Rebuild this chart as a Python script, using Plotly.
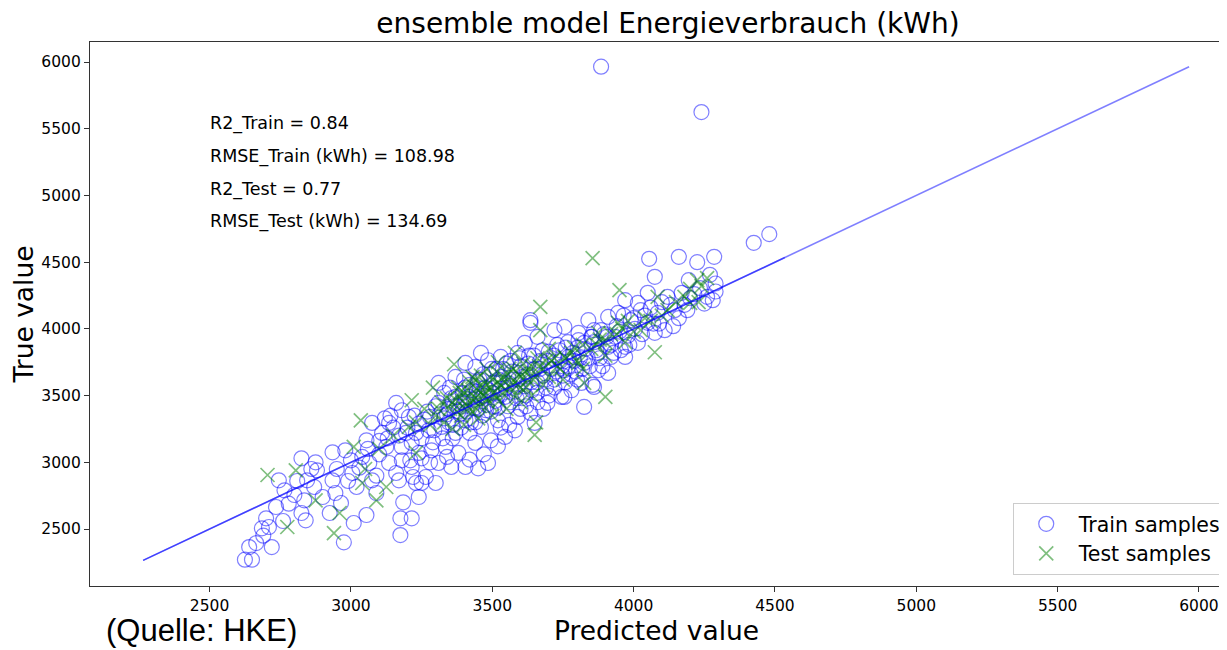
import plotly.graph_objects as go

title_text = "ensemble model Energieverbrauch (kWh)"
x_label = "Predicted value"
y_label = "True value"
source_text = "(Quelle: HKE)"
metrics = ["R2_Train = 0.84", "RMSE_Train (kWh) = 108.98", "R2_Test = 0.77", "RMSE_Test (kWh) = 134.69"]
tick_vals = [2500, 3000, 3500, 4000, 4500, 5000, 5500, 6000]

# (predicted, true) pairs
train_samples = [
    (2625,2270),(2650,2270),(2640,2365),(2665,2395),(2685,2505),(2710,2515),(2720,2365),(2700,2580),(2735,2665),
    (2745,2865),(2765,2790),(2800,2755),(2825,3030),(2835,2715),(2845,2865),(2825,2620),(2840,2565),(2875,3000),
    (2880,2940),(2870,2815),(2900,2740),(2925,2620),(2935,3075),(2935,2865),(2945,2770),(2965,2695),(2975,2400),
    (2980,3090),(3000,3015),(3005,2920),(3020,2815),(3010,2545),(3040,3040),(3055,3165),(3065,2995),(3075,2865),
    (3055,2605),(3090,2770),(3075,3295),(3110,3220),(3125,3115),(3135,2995),(3160,2920),(3135,3295),(3170,2865),
    (3185,2700),(3175,2580),(3215,2580),(3175,2455),(3180,3115),(3210,3015),(3220,2890),(3240,2740),(3250,2845),
    (3180,3390),(3230,3220),(3160,3445),(2690,2450),(2760,2560),(2780,2690),(2810,2860),(2860,2950),(2950,2950),
    (2990,2860),(3030,2960),(3060,3100),(3100,3060),(3130,3180),(3090,2900),(3140,3350),
    (3205,3340),(3195,3220),(3215,3145),(3240,3070),(3180,3015),(3215,2965),(3230,2845),(3265,2890),(3300,2845),
    (3310,2995),(3355,2965),(3405,2965),(3450,2955),(3485,2995),(3285,3090),(3335,3115),(3380,3070),(3440,3145),
    (3495,3165),(3545,3190),(3580,3240),(3650,3295),(3275,3240),(3320,3265),(3370,3220),(3405,3315),(3460,3265),
    (3520,3315),(3590,3340),(3635,3370),(3695,3445),(3755,3490),(3825,3415),(3310,3445),(3370,3490),(3310,3595),
    (3370,3640),(3440,3715),(3485,3765),(3530,3790),(3590,3820),(3615,3895),(3660,3940),(3720,3990),(3755,4015),
    (3805,3970),(3825,3895),(3860,3990),(3635,4045),(3460,3820),(3405,3745),
    (4425,4645),(4480,4710),(4055,4525),(4160,4540),(4225,4500),(4285,4540),(4075,4390),(4195,4365),(4270,4405),
    (4280,4215),(4235,4305),(4170,4270),(4050,4270),(4120,4240),(4145,4140),(4190,4140),(4085,4120),(4025,4140),
    (3970,4215),(4015,4195),(3945,4120),(3990,4065),(4050,4045),(4110,3990),(4075,3970),(3910,4090),(3885,3990),
    (3840,4065),(3850,3940),(3805,3915),(3935,3940),(4015,3895),(3970,3865),(3910,3865),(3875,3820),(3920,3790),
    (3970,3790),(3770,3790),(3825,3745),(3875,3690),(3910,3670),(3860,3565),(3815,3595),(3780,3540),(3755,3690),
    (3745,3490),(3885,5965),(4240,5625),(3855,3580),(3635,4065),
    (3330,3330),(3345,3400),(3360,3280),(3375,3420),(3385,3360),(3395,3520),(3400,3440),(3410,3380),(3420,3580),
    (3425,3300),(3435,3470),(3445,3530),(3450,3400),(3455,3620),(3465,3350),(3470,3500),(3475,3560),(3480,3430),
    (3490,3660),(3495,3380),(3500,3520),(3505,3600),(3510,3460),(3515,3700),(3520,3410),(3530,3550),(3535,3640),
    (3545,3490),(3550,3740),(3560,3590),(3565,3450),(3570,3680),(3580,3530),(3590,3620),(3600,3720),(3605,3480),
    (3615,3570),(3625,3660),(3630,3800),(3640,3540),(3650,3700),(3660,3600),(3670,3760),(3680,3650),(3690,3560),
    (3700,3830),(3710,3700),(3720,3620),(3730,3880),(3740,3760),(3750,3650),(3760,3860),(3770,3720),(3785,3820),
    (3795,3680),(3810,3780),(3830,3850),(3845,3720),(3860,3900),(3880,3780),(3895,3960),(3920,3880),(3940,4020),
    (3955,3840),(3980,3950),(4000,4080),(4030,3960),(4060,4160),(4090,4040),(4130,4180),(4160,4080),(4200,4230),
    (4250,4190),(4290,4280),(4290,4340),
    (3250,3180),(3260,3320),(3270,3380),(3290,3150),(3300,3420),(3240,3290),(3225,3350),(3200,3260),(3150,3260),
    (3120,3330),(3100,3160),(3170,3200),(3250,3030),(3280,3000),(3340,3040),(3360,3180),(3420,3220),(3470,3060),
    (3520,3120),(3560,3280),(3600,3400),(3660,3450),(3700,3500),(3420,3020),(3330,3520),(3350,3560),(3400,3620),
    (3340,3360),(3355,3480),(3365,3420),(3380,3380),(3390,3450),(3405,3560),(3415,3490),(3430,3540),(3440,3410),
    (3448,3600),(3458,3480),(3468,3660),(3478,3390),(3488,3540),(3498,3700),(3508,3420),(3522,3620),(3528,3500),
    (3538,3700),(3548,3560),(3556,3420),(3566,3760),(3576,3620),(3586,3480),(3596,3780),(3608,3640),(3618,3500),
    (3628,3740),(3638,3600),(3648,3800),(3658,3520),(3668,3700),(3678,3840),(3688,3620),(3698,3760),(3718,3800),
    (3728,3680),(3738,3840),(3748,3720),(3758,3600),(3768,3900),(3778,3660),(3790,3760),(3802,3860),(3818,3700),
    (3838,3780),(3852,3940),(3868,3840),(3890,3720),(3905,3940),(3930,3820),(3950,3980),(3965,4100),(3985,3880),
    (4005,4000),(4040,4100),(4070,4040),(4100,4200),(4140,4020),(4180,4180),(4215,4260),(4260,4240),(3280,3340),
    (3295,3240),(3315,3360),(3325,3180),(3345,3300),(3390,3260),(3440,3300),(3530,3260),(3620,3420),(3680,3400),
    (3720,3560),(3800,3620),
]

test_samples = [
    (2705,2905),(2775,2515),(2805,2940),(2875,2715),(2940,2470),(2960,2620),(3035,3315),(3010,3115),(3040,2845),
    (3090,2715),(3125,2815),(3205,3265),(3230,3070),
    (3855,4530),(3950,4290),(4075,3825),(3900,3490),(4085,4240),(4225,4365),(4200,4195),(4025,3990),(3875,3970),
    (3945,4045),(3805,3745),(3825,3595),(3755,3790),
    (3670,4165),(3365,3735),(3655,3300),(3650,3205),(3215,3465),(3670,3990),
    (3350,3400),(3370,3470),(3390,3350),(3400,3520),(3410,3430),(3420,3600),(3430,3380),(3440,3480),(3445,3550),
    (3455,3420),(3460,3650),(3470,3500),(3480,3580),(3490,3440),(3500,3620),(3505,3520),(3515,3680),(3525,3460),
    (3530,3580),(3540,3640),(3550,3540),(3560,3700),(3570,3600),(3585,3500),(3595,3660),(3610,3740),(3620,3560),
    (3630,3680),(3645,3620),(3660,3780),(3680,3700),(3700,3640),(3720,3780),(3740,3700),(3780,3820),(3800,3760),
    (3850,3850),(3880,3920),(3920,3960),(3960,4000),(4000,3980),(4040,4080),(4100,4100),(4150,4200),(4200,4300),
    (4260,4380),(4230,4200),(3300,3350),(3320,3450),(3280,3280),(3260,3400),(3330,3300),(3380,3560),(3360,3250),
    (3450,3330),(3500,3350),(3550,3400),(3600,3450),(3640,3500),(3400,3280),(3520,3750),(3580,3820),(3700,3850),
    (3230,3300),(3150,3200),(3100,3100),(3050,2950),(3290,3560),
    (3360,3450),(3375,3380),(3385,3520),(3395,3460),(3405,3400),(3415,3540),(3425,3480),(3435,3420),(3440,3620),
    (3450,3500),(3458,3450),(3465,3580),(3475,3530),(3485,3470),(3495,3560),(3510,3500),(3518,3600),(3535,3520),
    (3545,3600),(3555,3660),(3565,3560),(3575,3700),(3590,3580),(3600,3640),(3615,3680),(3625,3620),(3640,3720),
    (3655,3660),(3665,3720),(3690,3760),(3710,3760),(3730,3720),(3760,3780),(3790,3860),(3820,3880),(3870,3880),
    (3900,3900),(3940,3960),(3980,4060),(4060,4060),(4120,4140),(4180,4240),(4240,4320),(3340,3480),(3310,3400),
    (3430,3640),(3480,3700),(3600,3560),(3680,3580),(3750,3620),(3820,3700),(3900,3800),(3970,3900),
]

diag_train = [2265, 5965]
diag_test = [2265, 4535]

x_range = [2077, 6085]
y_range = [2073, 6150]

train_pred = [p for p, t in train_samples]
train_true = [t for p, t in train_samples]
test_pred = [p for p, t in test_samples]
test_true = [t for p, t in test_samples]

# the page body adds an 8px offset; the figure is sized so that it fills the window exactly
FIG_W, FIG_H = 1219, 642
L, R, T, B = 82, 0, 34, 64
PLOT_W = FIG_W - L - R
PLOT_H = FIG_H - T - B


def px_x(p):
    return (p - 8 - L) / PLOT_W


def px_y(p):
    return (FIG_H - B - (p - 8)) / PLOT_H


fig = go.Figure()
fig.add_trace(go.Scatter(x=train_pred, y=train_true, mode="markers", name="Train samples",
                         marker=dict(symbol="circle-open", size=15, color="rgba(0,0,255,0.5)",
                                     line=dict(width=1.2))))
fig.add_trace(go.Scatter(x=test_pred, y=test_true, mode="markers", name="Test samples",
                         marker=dict(symbol="x-thin-open", size=14, color="rgba(0,128,0,0.5)",
                                     line=dict(width=1.7, color="rgba(0,128,0,0.5)"))))
fig.add_trace(go.Scatter(x=diag_train, y=diag_train, mode="lines", showlegend=False,
                         line=dict(color="rgba(0,0,255,0.5)", width=1.6), hoverinfo="skip"))
fig.add_trace(go.Scatter(x=diag_test, y=diag_test, mode="lines", showlegend=False,
                         line=dict(color="rgba(0,0,255,0.5)", width=1.6), hoverinfo="skip"))

annots = []
for i, txt in enumerate(metrics):
    annots.append(dict(x=2493, y=5537 - i * 245, xref="x", yref="y", text=txt, showarrow=False,
                       xanchor="left", yanchor="middle",
                       font=dict(family="DejaVu Sans", size=17.5, color="black")))
annots.append(dict(x=px_x(104), y=px_y(630), xref="paper", yref="paper", text=source_text, showarrow=False,
                   xanchor="left", yanchor="middle",
                   font=dict(family="Liberation Sans, Arial", size=31, color="black")))

axis_common = dict(showgrid=False, zeroline=False, showline=True, linecolor="#333333", linewidth=1.2,
                   mirror=True, ticks="outside", ticklen=5, tickcolor="#333333", automargin=False,
                   tickfont=dict(family="DejaVu Sans", size=15.5, color="black"))

fig.update_layout(
    width=FIG_W, height=FIG_H,
    margin=dict(l=L, r=R, t=T, b=B),
    paper_bgcolor="white", plot_bgcolor="white",
    title=dict(text=title_text, x=(668 - 8) / FIG_W, xanchor="center", y=1 - (23 - 8) / FIG_H, yanchor="middle",
               font=dict(family="DejaVu Sans", size=28, color="black")),
    xaxis=dict(range=x_range, tickvals=tick_vals, **axis_common,
               title=dict(text=x_label, standoff=0, font=dict(family="DejaVu Sans", size=26.5, color="black"))),
    yaxis=dict(range=y_range, tickvals=tick_vals, **axis_common,
               title=dict(text=y_label, standoff=3, font=dict(family="DejaVu Sans", size=26.5, color="black"))),
    legend=dict(x=px_x(1016), y=px_y(575), xanchor="left", yanchor="bottom", bgcolor="white",
                bordercolor="#cccccc", borderwidth=1, itemwidth=55,
                font=dict(family="DejaVu Sans", size=20.5, color="black"), tracegroupgap=0),
    annotations=annots,
    showlegend=True,
)

fig.write_html("out.html")
